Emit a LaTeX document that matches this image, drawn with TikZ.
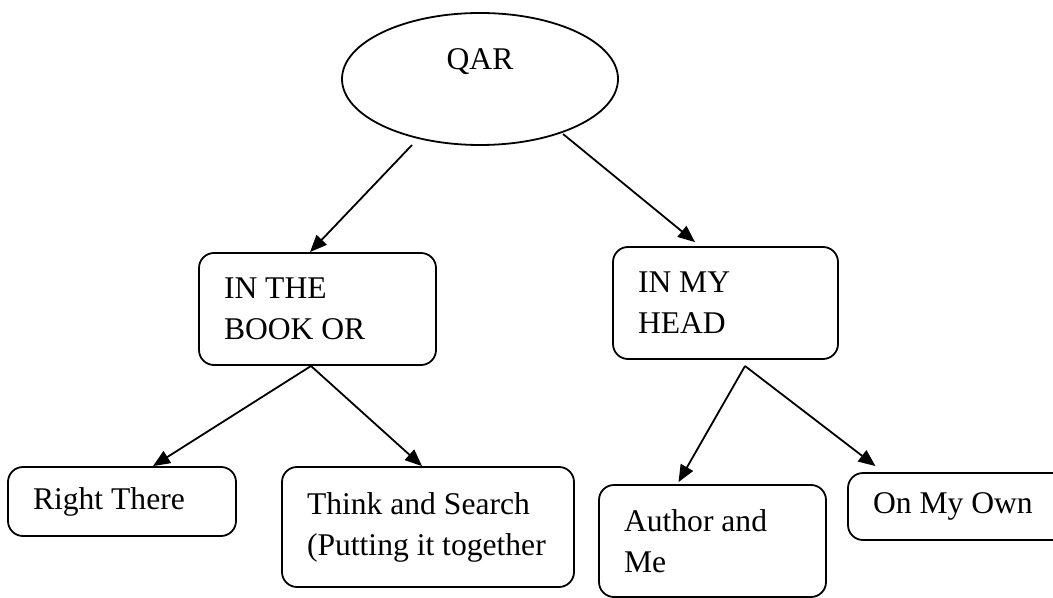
\documentclass[tikz,border=0pt]{standalone}
\usepackage{fontspec}
\setmainfont{Liberation Serif}
\usetikzlibrary{shapes,arrows.meta}
\tikzset{ell/.style={ellipse,draw,line width=0.9pt,minimum width=138pt,minimum height=66pt,inner sep=0pt,text height=10.5pt,text depth=19.5pt,font=\fontsize{15.8}{20.5}\selectfont},
box/.style={rectangle,draw,rounded corners=7.5pt,line width=0.9pt,align=flush left,inner xsep=12.5pt,inner ysep=0pt,font=\fontsize{15.8}{20.5}\selectfont}}

\begin{document}
\begin{tikzpicture}[x=0.5pt,y=-0.5pt,>={Triangle[length=8.5pt,width=7pt]}]
    \useasboundingbox (0,0) rectangle (1053,598);
    \clip (0,0) rectangle (1053,598);

    \node[ell] (qar) at (480,79) {QAR};
    \node[box,text width=93.5pt,minimum height=56pt] (book) at (317.5,309) {IN THE\\BOOK OR};
    \node[box,text width=87.5pt,minimum height=56pt] (head) at (725.5,303) {IN MY\\HEAD};
    \node[box,text width=89pt,minimum height=34.5pt] (right) at (122,501.5) {Right There};
    \node[box,text width=121pt,minimum height=60pt] (think) at (428,527) {Think and Search\\\mbox{(Putting it together}};
    \node[box,text width=88.5pt,minimum height=56pt] (author) at (712.5,541) {Author and\\Me};
    \node[box,text width=88.5pt,minimum height=33.5pt] (own) at (961.5,506.5) {On My Own};

    \coordinate (qarL) at (412,145);
    \coordinate (qarR) at (563,134);
    \coordinate (bookB) at (311,366);
    \coordinate (headB) at (745,366);

    \draw [->,line width=0.9pt] (qarL) to (book.north -| 310,0);
    \draw [->,line width=0.9pt] (qarR) to ([xshift=-15.25pt,yshift=2pt]head.north);
    \draw [->,line width=0.9pt] (bookB) to ([xshift=15.5pt]right.north);
    \draw [->,line width=0.9pt] (bookB) to ([xshift=-3pt]think.north);
    \draw [->,line width=0.9pt] (headB) to ([xshift=-17pt,yshift=1pt]author.north);
    \draw [->,line width=0.9pt] (headB) to ([xshift=-43pt,yshift=3pt]own.north);
\end{tikzpicture}
\end{document}
